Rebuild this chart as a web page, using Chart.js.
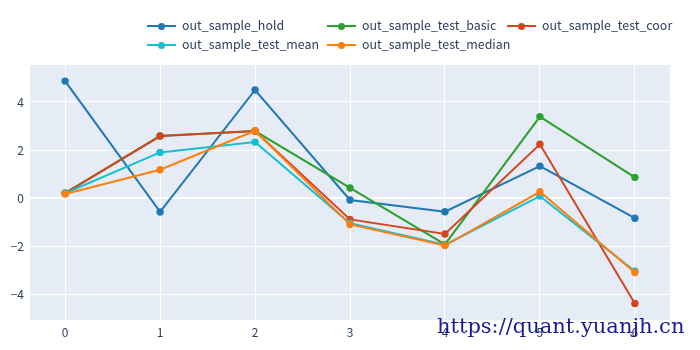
<!DOCTYPE html>
<html>
<head>
<meta charset="utf-8">
<script src="https://cdn.jsdelivr.net/npm/chart.js@4/dist/chart.umd.min.js"></script>
<style>
  body { margin: 0; background: #fff; }
  #wrap { position: relative; width: 700px; height: 350px; overflow: hidden; }
  #legend { position: absolute; left: 147px; top: 16px; width: 560px; font-family: "Noto Sans CJK SC", "Noto Sans", sans-serif; font-size: 12.4px; color: #2a3f5f; }
  .item { position: absolute; height: 19px; line-height: 19px; white-space: nowrap; }
  .sw { position: absolute; left: 0; top: 9px; width: 29px; height: 2px; }
  .dot { position: absolute; left: 11px; top: -2.5px; width: 7px; height: 7px; border-radius: 50%; }
  .lbl { position: absolute; left: 35px; top: 0; }
  #mark { position: absolute; left: 437px; top: 314px; font-family: "DejaVu Serif", serif; font-size: 21px; color: #1a1a98; white-space: nowrap; }
</style>
</head>
<body>
<div id="wrap">
  <canvas id="myChart" width="700" height="350"></canvas>
  <div id="legend"></div>
  <div id="mark">https://quant.yuanjh.cn</div>
</div>
<script>
const xs = [0, 1, 2, 3, 4, 5, 6];
const seriesNames = ['out_sample_hold', 'out_sample_test_basic', 'out_sample_test_coor', 'out_sample_test_mean', 'out_sample_test_median'];
const colores = ['#1f77b4', '#2ca02c', '#d4461f', '#17becf', '#ff7f0e'];
const hold   = [4.87, -0.58, 4.50, -0.08, -0.57, 1.33, -0.84];
const basic  = [0.20, 2.58, 2.79, 0.42, -1.93, 3.39, 0.86];
const coor   = [0.20, 2.58, 2.79, -0.89, -1.50, 2.24, -4.39];
const mean   = [0.20, 1.90, 2.33, -1.05, -1.95, 0.08, -3.05];
const median = [0.17, 1.18, 2.80, -1.10, -1.98, 0.26, -3.10];
const valores = [hold, basic, coor, mean, median];

// legend, 3 columns like plotly
const leg = document.getElementById('legend');
seriesNames.forEach((name, i) => {
  const it = document.createElement('div');
  it.className = 'item';
  it.style.left = (i % 3) * 180 + 'px';
  it.style.top = Math.floor(i / 3) * 19 + 'px';
  it.innerHTML = '<span class="sw" style="background:' + colores[i] + '"><span class="dot" style="background:' + colores[i] + '"></span></span><span class="lbl">' + name + '</span>';
  leg.appendChild(it);
});

const fondo = {
  id: 'fondo',
  beforeDraw(chart) {
    const { ctx, chartArea: a } = chart;
    ctx.save();
    ctx.fillStyle = '#E5ECF6';
    ctx.fillRect(a.left, a.top, a.right - a.left, a.bottom - a.top);
    ctx.restore();
  }
};

const ctx = document.getElementById('myChart');
new Chart(ctx, {
  type: 'line',
  data: {
    datasets: valores.map((v, i) => ({
      label: seriesNames[i],
      data: xs.map((x, j) => ({ x: x, y: v[j] })),
      borderColor: colores[i],
      backgroundColor: colores[i],
      borderWidth: 2,
      pointRadius: 3.7,
      pointBorderWidth: 0,
      tension: 0,
      order: 5 - i
    }))
  },
  plugins: [fondo],
  options: {
    responsive: false,
    animation: false,
    layout: { padding: { top: 65, right: 30, left: 0, bottom: 0 } },
    plugins: {
      legend: { display: false },
      tooltip: { enabled: false }
    },
    scales: {
      x: {
        type: 'linear',
        min: -0.37,
        max: 6.37,
        afterFit: (s) => { s.height = 30; },
        afterBuildTicks: (s) => { s.ticks = xs.map(v => ({ value: v })); },
        grid: { color: '#ffffff', lineWidth: 1, drawTicks: false },
        border: { display: false },
        ticks: { color: '#2a3f5f', font: { family: 'Noto Sans CJK SC', size: 12 }, padding: 5 }
      },
      y: {
        min: -5.08,
        max: 5.54,
        afterFit: (s) => { s.width = 30; },
        afterBuildTicks: (s) => { s.ticks = [-4, -2, 0, 2, 4].map(v => ({ value: v })); },
        grid: {
          color: '#ffffff',
          lineWidth: (c) => (c.tick && c.tick.value === 0 ? 2 : 1),
          drawTicks: false
        },
        border: { display: false },
        ticks: {
          color: '#2a3f5f',
          font: { family: 'Noto Sans CJK SC', size: 12 },
          padding: 6,
          callback: (v) => String(v).replace('-', '\u2212')
        }
      }
    }
  }
});
</script>
</body>
</html>
